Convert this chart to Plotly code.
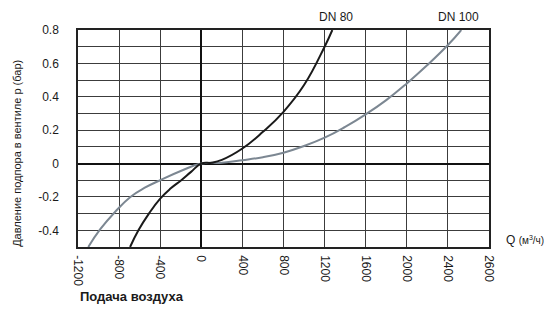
import plotly.graph_objects as go

# --- data ---
dn80_q = [-693, -612, -510, -400, -300, -195, -100, 0, 100, 200, 400, 600, 800, 1000, 1200, 1275]
dn80_p = [-0.5, -0.4, -0.3, -0.21, -0.15, -0.1, -0.05, 0.0, 0.005, 0.022, 0.09, 0.19, 0.31, 0.47, 0.7, 0.8]

dn100_q = [-1100, -985, -840, -690, -550, -400, -200, 0, 200, 400, 600, 800, 1000, 1200, 1400, 1600, 1800, 2000, 2200, 2400, 2530]
dn100_p = [-0.5, -0.395, -0.29, -0.2, -0.145, -0.1, -0.045, 0.0, 0.005, 0.02, 0.038, 0.065, 0.105, 0.155, 0.22, 0.295, 0.38, 0.48, 0.59, 0.71, 0.8]

x_tickvals = [-1200, -800, -400, 0, 400, 800, 1200, 1600, 2000, 2400, 2800]
x_ticktext = ["-1200", "-800", "-400", "0", "400", "800", "1200", "1600", "2000", "2400", "2600"]
y_tickvals = [0.8, 0.7, 0.6, 0.5, 0.4, 0.3, 0.2, 0.1, 0, -0.1, -0.2, -0.3, -0.4]
y_ticktext = ["0.8", " ", "0.6", " ", "0.4", " ", "0.2", " ", "0", " ", "-0.2", " ", "-0.4"]

FONT = "Liberation Sans, Arial, Helvetica, sans-serif"
GRID = "#3c3c3c"

fig = go.Figure()
fig.add_trace(go.Scatter(x=dn100_q, y=dn100_p, mode="lines",
                         line=dict(color="#7c8792", width=2, shape="spline", smoothing=1.3),
                         name="DN 100", showlegend=False))
fig.add_trace(go.Scatter(x=dn80_q, y=dn80_p, mode="lines",
                         line=dict(color="#1a1a1a", width=2, shape="spline", smoothing=1.3),
                         name="DN 80", showlegend=False))

# page body has an 8px default margin, so the figure is 8px smaller and shifted
fig.update_layout(
    width=544, height=307,
    margin=dict(l=70, r=63, t=22, b=68, autoexpand=False),
    paper_bgcolor="white", plot_bgcolor="white",
    font=dict(family=FONT, size=12, color="#1a1a1a"),
    xaxis=dict(range=[-1200, 2800], tickvals=x_tickvals, ticktext=x_ticktext,
               tickangle=90, ticks="outside", ticklen=4, tickcolor="rgba(0,0,0,0)",
               showgrid=True, gridcolor=GRID, gridwidth=1, automargin=False,
               zeroline=True, zerolinecolor="#111", zerolinewidth=2,
               showline=True, linecolor="#222", linewidth=1.5, mirror=True,
               tickfont=dict(size=12, color="#1a1a1a"), fixedrange=True),
    yaxis=dict(range=[-0.5, 0.8], tickmode="array", tickvals=y_tickvals, ticktext=y_ticktext,
               ticks="outside", ticklen=15, tickcolor="rgba(0,0,0,0)",
               showgrid=True, gridcolor=GRID, gridwidth=1, automargin=False,
               zeroline=True, zerolinecolor="#111", zerolinewidth=2,
               showline=True, linecolor="#222", linewidth=1.5, mirror=True,
               tickfont=dict(size=12, color="#1a1a1a"), fixedrange=True),
    annotations=[
        dict(text="DN 80", x=1307, y=1.06, xref="x", yref="paper", showarrow=False,
             xanchor="center", yanchor="middle", font=dict(size=12)),
        dict(text="DN 100", x=2507, y=1.06, xref="x", yref="paper", showarrow=False,
             xanchor="center", yanchor="middle", font=dict(size=12)),
        dict(text="Давление подпора в вентиле p (бар)", x=-0.148, y=0.43,
             xref="paper", yref="paper", showarrow=False, textangle=-90,
             xanchor="center", yanchor="middle", font=dict(size=11)),
        dict(text="Q <span style='font-size:10px'>(м<sup>3</sup>/ч)</span>", x=1.088, y=0.03,
             xref="paper", yref="paper", showarrow=False,
             xanchor="center", yanchor="middle", font=dict(size=12)),
        dict(text="<b>Подача воздуха</b>", x=0, y=-0.229,
             xref="paper", yref="paper", showarrow=False,
             xanchor="left", yanchor="middle", font=dict(size=13)),
    ],
)

fig.write_html("out.html")
